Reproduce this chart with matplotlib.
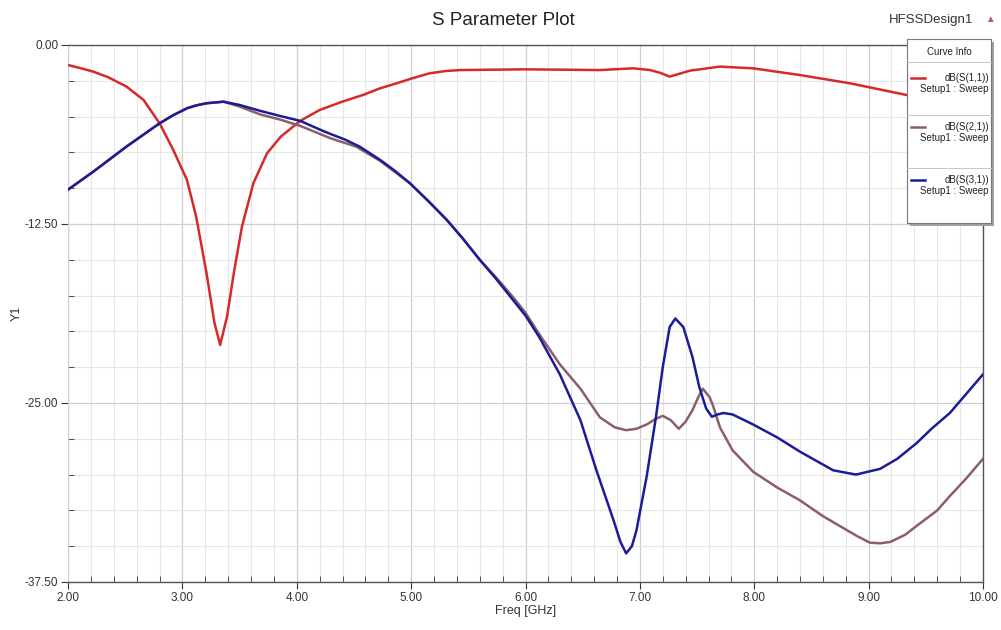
import matplotlib.pyplot as plt
from matplotlib.patches import Rectangle
from matplotlib.lines import Line2D
from matplotlib.ticker import MultipleLocator, FormatStrFormatter

plt.rcParams['font.family'] = ['Liberation Sans', 'DejaVu Sans']

# S(1,1)
s11_freq = [2.0, 2.1, 2.22, 2.35, 2.51, 2.66, 2.8, 2.92, 3.04, 3.12, 3.21, 3.28, 3.33,
            3.39, 3.45, 3.52, 3.62, 3.74, 3.86, 4.03, 4.2, 4.4, 4.58, 4.72, 4.87, 5.0,
            5.16, 5.3, 5.43, 6.0, 6.65, 6.94, 7.09, 7.18, 7.26, 7.35, 7.44, 7.7, 7.99,
            8.4, 8.84, 9.33, 10.0]
s11_db = [-1.4, -1.6, -1.86, -2.25, -2.9, -3.84, -5.47, -7.33, -9.43, -11.99, -15.9, -19.4, -20.95,
          -18.97, -15.9, -12.7, -9.66, -7.56, -6.4, -5.3, -4.54, -3.95, -3.49, -3.05, -2.68, -2.35,
          -1.98, -1.82, -1.75, -1.7, -1.75, -1.63, -1.75, -1.95, -2.21, -2.0, -1.79, -1.51, -1.63,
          -2.1, -2.68, -3.49, -4.6]

# S(2,1)
s21_freq = [2.0, 2.22, 2.51, 2.8, 2.92, 3.04, 3.12, 3.21, 3.36, 3.5, 3.68, 3.85, 4.03,
            4.29, 4.52, 4.73, 4.99, 5.15, 5.31, 5.45, 5.6, 5.75, 5.89, 6.0, 6.12, 6.3,
            6.48, 6.65, 6.78, 6.88, 6.97, 7.06, 7.14, 7.2, 7.27, 7.34, 7.4, 7.46, 7.51,
            7.55, 7.61, 7.64, 7.7, 7.81, 7.99, 8.2, 8.4, 8.6, 8.75, 8.9, 9.01, 9.1,
            9.19, 9.32, 9.45, 9.6, 9.71, 9.85, 10.0]
s21_db = [-10.1, -8.85, -7.1, -5.47, -4.9, -4.42, -4.22, -4.07, -3.96, -4.3, -4.85, -5.2, -5.65,
          -6.5, -7.1, -8.1, -9.66, -10.9, -12.2, -13.5, -15.0, -16.3, -17.6, -18.7, -20.2, -22.3,
          -24.0, -26.0, -26.7, -26.9, -26.8, -26.5, -26.1, -25.9, -26.2, -26.8, -26.3, -25.5, -24.6,
          -24.0, -24.6, -25.2, -26.7, -28.3, -29.8, -30.9, -31.8, -32.9, -33.6, -34.3, -34.75, -34.8,
          -34.7, -34.2, -33.4, -32.5, -31.5, -30.3, -28.9]

# S(3,1)
s31_freq = [2.0, 2.22, 2.51, 2.8, 2.92, 3.04, 3.12, 3.21, 3.36, 3.5, 3.68, 3.85, 4.03,
            4.2, 4.29, 4.42, 4.55, 4.73, 4.86, 4.99, 5.15, 5.31, 5.45, 5.6, 5.75, 5.89,
            6.0, 6.12, 6.3, 6.48, 6.62, 6.77, 6.83, 6.88, 6.93, 6.97, 7.06, 7.14, 7.2,
            7.26, 7.31, 7.38, 7.46, 7.52, 7.58, 7.63, 7.68, 7.73, 7.81, 7.99, 8.2, 8.4,
            8.69, 8.89, 9.1, 9.25, 9.42, 9.55, 9.71, 9.85, 10.0]
s31_db = [-10.1, -8.85, -7.1, -5.47, -4.9, -4.42, -4.22, -4.07, -3.96, -4.19, -4.6, -4.95, -5.3,
          -5.9, -6.2, -6.6, -7.1, -8.03, -8.8, -9.66, -10.9, -12.2, -13.5, -15.0, -16.4, -17.8,
          -18.9, -20.4, -23.0, -26.2, -29.7, -33.2, -34.7, -35.5, -35.0, -33.9, -30.1, -26.0, -22.5,
          -19.7, -19.1, -19.7, -21.8, -23.9, -25.4, -25.96, -25.8, -25.7, -25.8, -26.5, -27.4, -28.4,
          -29.7, -30.0, -29.6, -28.9, -27.8, -26.8, -25.7, -24.4, -23.0]

curve_names = ["dB(S(1,1))", "dB(S(2,1))", "dB(S(3,1))"]
curve_colors = ["#d42a2a", "#8a5e6c", "#1c1c96"]

fig = plt.figure(figsize=(10.01, 6.30), dpi=100)
ax = fig.add_axes([0.068, 0.0762, 0.914, 0.8524])

ax.plot(s11_freq, s11_db, color=curve_colors[0], lw=1.8, zorder=3)
ax.plot(s21_freq, s21_db, color=curve_colors[1], lw=1.8, zorder=3)
ax.plot(s31_freq, s31_db, color=curve_colors[2], lw=1.8, zorder=4)

ax.set_xlim(2, 10)
ax.set_ylim(-37.5, 0)
ax.xaxis.set_major_locator(MultipleLocator(1))
ax.xaxis.set_minor_locator(MultipleLocator(0.2))
ax.yaxis.set_major_locator(MultipleLocator(12.5))
ax.yaxis.set_minor_locator(MultipleLocator(2.5))
ax.xaxis.set_major_formatter(FormatStrFormatter("%.2f"))
ax.yaxis.set_major_formatter(FormatStrFormatter("%.2f"))
ax.grid(which="major", color="#cfcfcf", lw=0.9)
ax.grid(which="minor", color="#e6e6e6", lw=0.8)
ax.set_axisbelow(True)
ax.tick_params(which="major", direction="out", length=5, labelsize=8.5, colors="#333333", pad=2)
ax.tick_params(which="minor", direction="in", length=4, color="#333333")

for side in ["top", "bottom", "right"]:
    ax.spines[side].set_color("#555555")
    ax.spines[side].set_linewidth(1.0)
ax.spines["left"].set_color("#d0d0d0")

ax.set_xlabel("Freq [GHz]", fontsize=9, color="#333333", labelpad=1)
ax.set_ylabel("Y1", fontsize=9, color="#333333")
ax.yaxis.set_label_coords(-0.05, 0.5)

fig.text(0.503, 0.967, "S Parameter Plot", ha="center", va="center", fontsize=13.5, color="#222222")
fig.text(0.972, 0.968, "HFSSDesign1", ha="right", va="center", fontsize=9.5, color="#333333")
fig.text(0.989, 0.970, "\u25b2", ha="center", va="center", fontsize=7, color="#b06060")

# legend box (Curve Info), coordinates in figure pixels
fw, fh = 1001, 630
lx0, lx1, ly_top, ly_bot = 907, 991, 39, 223
fig.patches.append(Rectangle((lx0 / fw + 0.003, 1 - (ly_bot + 3) / fh), (lx1 - lx0) / fw,
                             (ly_bot - ly_top) / fh, transform=fig.transFigure,
                             facecolor="#a0a0a0", edgecolor="none", zorder=5))
fig.patches.append(Rectangle((lx0 / fw, 1 - ly_bot / fh), (lx1 - lx0) / fw, (ly_bot - ly_top) / fh,
                             transform=fig.transFigure, facecolor="white", edgecolor="#777777",
                             lw=0.8, zorder=6))
fig.text((lx0 + lx1) / 2 / fw, 1 - 52 / fh, "Curve Info", ha="center", va="center",
         fontsize=7, color="#222222", zorder=7)
sep_rows = [62, 115, 168]
name_rows = [78, 127, 180]
for sep, row, name, col in zip(sep_rows, name_rows, curve_names, curve_colors):
    fig.lines.append(Line2D([lx0 / fw, lx1 / fw], [1 - sep / fh, 1 - sep / fh],
                            transform=fig.transFigure, color="#c0c8c8", lw=0.7, zorder=7))
    fig.lines.append(Line2D([911 / fw, 925 / fw], [1 - row / fh, 1 - row / fh],
                            transform=fig.transFigure, color=col, lw=1.8, zorder=7))
    fig.text((lx1 - 2) / fw, 1 - row / fh, name, ha="right", va="center",
             fontsize=7, color="#222222", zorder=7)
    fig.text((lx1 - 2) / fw, 1 - (row + 11) / fh, "Setup1 : Sweep", ha="right", va="center",
             fontsize=7, color="#222222", zorder=7)

fig.savefig("out.png", dpi=100)
